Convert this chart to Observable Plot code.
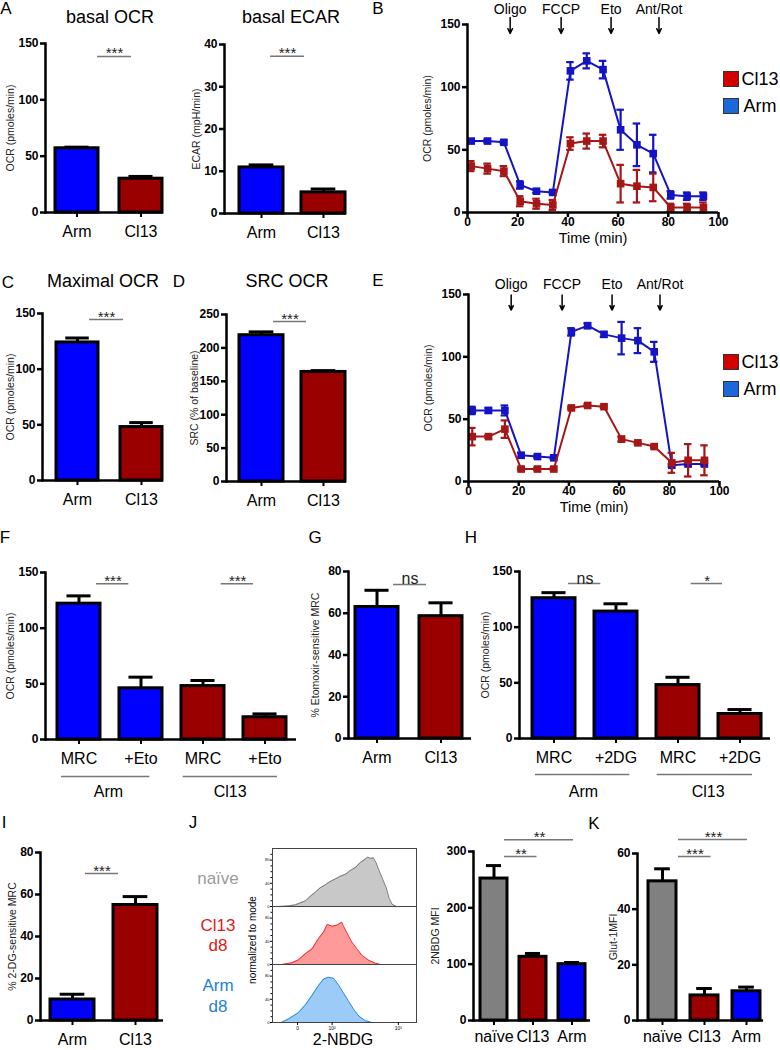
<!DOCTYPE html>
<html><head><meta charset="utf-8">
<script src="https://cdn.jsdelivr.net/npm/d3@7"></script>
<script src="https://cdn.jsdelivr.net/npm/@observablehq/plot@0.6"></script>
<style>
body{margin:0;background:#fff;font-family:'Liberation Sans',Arial,sans-serif;}
#fig{position:relative;width:780px;height:1050px;overflow:hidden;background:#fff;}
.t{position:absolute;white-space:nowrap;transform:translate(-50%,-50%);line-height:1;color:#000;}
.sq{position:absolute;border:1px solid #333;box-sizing:border-box;}
svg{overflow:visible;}
</style></head>
<body><div id="fig"></div>
<script>
// ---------- data ----------
const armCl13 = ["Arm", "Cl13"];
const basalOCR = [57, 30], basalOCRErr = [58, 32];
const basalECAR = [10.9, 5.0], basalECARErr = [11.5, 5.8];
const maxOCR = [124, 48], maxOCRErr = [128, 52];
const srcOCR = [219, 164], srcOCRErr = [224, 166];
const etoKeys = ["MRC_Arm", "Eto_Arm", "MRC_Cl13", "Eto_Cl13"];
const etoCats = ["MRC", "+Eto", "MRC", "+Eto"];
const etoOCR = [122, 46, 48, 20], etoOCRErr = [129, 56, 53, 23];
const etoSens = [63, 58.6], etoSensErr = [71, 65];
const dgKeys = ["MRC_Arm", "DG_Arm", "MRC_Cl13", "DG_Cl13"];
const dgCats = ["MRC", "+2DG", "MRC", "+2DG"];
const dgOCR = [126, 114, 48, 22], dgOCRErr = [131, 121, 55, 26];
const dgSens = [10, 55], dgSensErr = [12.5, 59];
const mfiCats = ["naïve", "Cl13", "Arm"];
const nbdgMFI = [252, 113, 100], nbdgMFIErr = [275, 119, 103];
const glutMFI = [50, 9, 10.5], glutMFIErr = [54.5, 11.5, 12];

const timeMin = [1.5, 8, 14.5, 21, 27.5, 34, 41, 47.5, 54, 61, 67.5, 74, 81, 87.5, 94];
const bArm = [57, 57, 56, 22, 17, 16, 113, 121, 114, 66, 54, 47, 14, 13, 13];
const bArmErr = [1.5, 1, 1, 3, 1.5, 1.5, 7, 6, 7, 16, 17, 15, 3, 3, 3];
const bCl13 = [37, 35, 33, 9, 7, 6, 55, 57, 57, 23, 21, 20, 4, 4, 4];
const bCl13Err = [4, 4, 4, 4, 4, 4, 5, 6, 5, 15, 13, 11, 3, 3, 4];
const eArm = [57, 57, 57, 21, 20, 19, 120, 125, 118, 115, 113, 104, 13, 14, 14];
const eArmErr = [3, 2, 4, 2, 1, 1, 3, 2, 2, 13, 10, 8, 1, 1, 1];
const eCl13 = [36, 36, 42, 10, 10, 10, 59, 61, 60, 34, 31, 28, 15, 17, 17];
const eCl13Err = [7, 1, 7, 1, 1, 1, 1, 1, 1, 2, 1, 1, 8, 13, 12];
const injections = ["Oligo", "FCCP", "Eto", "Ant/Rot"];
const injectionTimes = [17, 37.3, 57.2, 76.3];

const naiveHist = [[4,0],[11,1],[16,3],[19,6],[23,10],[26,17],[30,25],[33,32],[37,38],[40,43],[44,48],[47,52],[51,56],[54,62],[58,68],[61,76],[63.5,80],[66,85],[68,83],[70,84],[72,75],[74,62],[76,50],[79,32],[81,14],[83,4],[86,0]];
const cl13Hist = [[6.5,0],[13.5,3],[18,8],[23,19],[27.5,27],[32,45],[35.5,56],[38,69],[41.5,66],[45,68],[48,73],[49.5,65],[52,53],[55,39],[59,26],[62,16],[67,7],[71.5,2],[75,0]];
const armHist = [[6,0],[11,6],[18,17],[23,31],[27.5,47],[32,64],[35.5,75],[39,78],[42.5,76],[46,64],[49.5,50],[53,36],[56.5,22],[60,11],[64.5,3],[69,0]];
const histTicks = [17.4, 41.4, 87.4], histTickLabels = ["0", "10²", "10³"];

// ---------- style ----------
const FONT = "'Liberation Sans', Arial, sans-serif";
const BLUE = "#0000ff", RED = "#9b0000", GRAY = "#808080";
const LBLUE = "#1414c4", LRED = "#a51616";
const fig = document.getElementById("fig");

function place(node, left, top) {
  node.style.position = "absolute";
  node.style.left = left + "px";
  node.style.top = top + "px";
  fig.appendChild(node);
}
function label(text, x, y, size, opts = {}) {
  const d = document.createElement("div");
  d.className = "t";
  d.textContent = text;
  d.style.left = x + "px";
  d.style.top = y + "px";
  d.style.fontSize = size + "px";
  if (opts.color) d.style.color = opts.color;
  if (opts.rotate) d.style.transform = `translate(-50%,-50%) rotate(${opts.rotate}deg)`;
  fig.appendChild(d);
}
function square(x, y, s, color) {
  const d = document.createElement("div");
  d.className = "sq";
  d.style.left = x + "px"; d.style.top = y + "px";
  d.style.width = s + "px"; d.style.height = s + "px";
  d.style.background = color;
  fig.appendChild(d);
}

function barPanel(p) {
  const mL = 55, mR = 8, mT = 30, mB = 62;
  const L = p.axisX - mL, T = p.yTop - mT;
  const W = p.axisEnd - p.axisX + mL + mR;
  const H = p.yBottom - p.yTop + mT + mB;
  const n = p.keys.length;
  const step = (p.barEnd - p.barStart - p.barW) / (n - 1);
  const pin = 1 - p.barW / step;
  const bs = i => p.barStart + i * step;
  const data = p.keys.map((k, i) => ({k, v: p.values[i], e: p.errs[i], c: p.colors[i]}));
  const marks = [
    Plot.barY(data, {x: "k", y: "v", fill: "c", stroke: "black", strokeWidth: 3}),
    Plot.ruleX(data, {x: "k", y1: "v", y2: "e", strokeWidth: 3}),
    Plot.tickY(data, {x: "k", y: "e", strokeWidth: 3, inset: p.barW * 0.22}),
    Plot.ruleY([0], {strokeWidth: 2.5}),
    Plot.frame({anchor: "left", strokeWidth: 2.5}),
    Plot.axisY({ticks: p.ticks, tickSize: 5, tickPadding: 2, fontSize: 12, fontWeight: "bold", strokeWidth: 2.5, label: null}),
    Plot.axisX({tickSize: 5, tickPadding: p.catPad ?? 8, fontSize: 16, strokeWidth: 2, label: null,
      tickFormat: k => p.labels[p.keys.indexOf(k)]}),
    Plot.text([p.ylabel], {frameAnchor: "left", textAnchor: "middle", rotate: -90, dx: -p.ylabelOff, fontSize: 10.5, fill: "#222", text: d => d})
  ];
  for (const s of p.sigs || []) {
    const datum = {a: p.keys[s.a], b: p.keys[s.b], y: s.y, t: s.t};
    marks.push(Plot.ruleY([datum], {y: "y", x1: "a", x2: "b", insetLeft: s.x1 - bs(s.a),
      insetRight: bs(s.b) + p.barW - s.x2, stroke: "#777", strokeWidth: 1.5}));
    marks.push(Plot.text([datum], {x: "a", y: "y", text: "t", dx: (s.x1 + s.x2) / 2 - (bs(s.a) + p.barW / 2),
      dy: s.size ? 0 : 2, lineAnchor: "bottom", fontSize: s.size ?? 15, fill: "#222"}));
  }
  for (const g of p.groups || []) {
    const datum = {a: p.keys[g.a], b: p.keys[g.b], t: g.t};
    marks.push(Plot.ruleY([datum], {y: 0, x1: "a", x2: "b", dy: g.ly - p.yBottom, insetLeft: g.x1 - bs(g.a),
      insetRight: bs(g.b) + p.barW - g.x2, stroke: "#777", strokeWidth: 1.5}));
    marks.push(Plot.text([datum], {x: "a", y: 0, text: "t", dx: g.tx - (bs(g.a) + p.barW / 2),
      dy: g.ty - p.yBottom, fontSize: 16}));
  }
  const svg = Plot.plot({
    width: W, height: H, marginLeft: mL, marginRight: mR, marginTop: mT, marginBottom: mB,
    x: {type: "band", domain: p.keys, range: [p.barStart - L, p.barEnd - L], paddingInner: pin, paddingOuter: 0, align: 0.5},
    y: {domain: p.domain},
    color: {type: "identity"},
    style: {fontFamily: FONT, color: "#000", background: "transparent", overflow: "visible"},
    marks
  });
  place(svg, L, T);
}

function linePanel(p) {
  const mL = 60, mR = 8, mT = 24, mB = 45;
  const L = p.axisX - mL, T = p.yTop - mT;
  const W = p.axisEnd - p.axisX + mL + mR;
  const H = p.yBottom - p.yTop + mT + mB;
  const ser = (vals, errs) => timeMin.map((t, i) => ({t, v: vals[i], lo: vals[i] - errs[i], hi: vals[i] + errs[i]}));
  const seriesMarks = (s, color) => [
    Plot.line(s, {x: "t", y: "v", stroke: color, strokeWidth: 2}),
    Plot.ruleX(s, {x: "t", y1: "lo", y2: "hi", stroke: color, strokeWidth: 2.2}),
    Plot.ruleY(s, {y: "hi", x1: d => d.t - 1.5, x2: d => d.t + 1.5, stroke: color, strokeWidth: 2.2}),
    Plot.ruleY(s, {y: "lo", x1: d => d.t - 1.5, x2: d => d.t + 1.5, stroke: color, strokeWidth: 2.2}),
    Plot.dot(s, {x: "t", y: "v", symbol: "square", r: 4.3, fill: color, stroke: "none"})
  ];
  const inj = injections.map((name, i) => ({name, t: injectionTimes[i]}));
  const svg = Plot.plot({
    width: W, height: H, marginLeft: mL, marginRight: mR, marginTop: mT, marginBottom: mB,
    x: {domain: [0, 100]},
    y: {domain: [0, 150]},
    style: {fontFamily: FONT, color: "#000", background: "transparent", overflow: "visible"},
    marks: [
      ...seriesMarks(ser(p.arm, p.armErr), LBLUE),
      ...seriesMarks(ser(p.cl, p.clErr), LRED),
      Plot.ruleY([0], {strokeWidth: 2.5}),
      Plot.frame({anchor: "left", strokeWidth: 2.5}),
      Plot.axisY({ticks: [0, 50, 100, 150], tickSize: 5, tickPadding: 2, fontSize: 12, fontWeight: "bold", strokeWidth: 2.5, label: null}),
      Plot.axisX({ticks: [0, 20, 40, 60, 80, 100], tickSize: 5, tickPadding: 0, fontSize: 12, fontWeight: "bold", strokeWidth: 2.5, label: null}),
      Plot.text(["OCR (pmoles/min)"], {frameAnchor: "left", textAnchor: "middle", rotate: -90, dx: -40, fontSize: 10.5, fill: "#222", text: d => d}),
      Plot.text(["Time (min)"], {frameAnchor: "bottom", dy: 30, fontSize: 14.5, text: d => d}),
      Plot.arrow(inj, {x: "t", y1: p.arrowY1, y2: p.arrowY2, strokeWidth: 1.5, headLength: 6, headAngle: 50}),
      Plot.text(inj, {x: "t", y: 150, dy: p.textDy, text: "name", fontSize: 14})
    ]
  });
  place(svg, L, T);
  // legend
  square(723, p.legY, 16, "#d40000");
  label("Cl13", 760, p.legY + 8, 18);
  square(723, p.legY + 27, 16, "#1d68d8");
  label("Arm", 760, p.legY + 35, 18);
}

function histPanel() {
  const rows = [
    {key: "naive", pts: naiveHist, fill: "#c8c8c8", stroke: "#7a7a7a"},
    {key: "cl13", pts: cl13Hist, fill: "#ff9a9a", stroke: "#ef2a2a"},
    {key: "arm", pts: armHist, fill: "#9dcbf7", stroke: "#2288e8"}
  ];
  const data = rows.flatMap(r => r.pts.map(([x, y]) => ({row: r.key, x, y, fill: r.fill, stroke: r.stroke})));
  const mL = 20, mR = 4, mT = 2, mB = 14;
  const svg = Plot.plot({
    width: 144 + mL + mR, height: 175 + mT + mB, marginLeft: mL, marginRight: mR, marginTop: mT, marginBottom: mB,
    fy: {domain: rows.map(r => r.key), padding: 0, axis: null},
    x: {domain: [0, 100]},
    y: {domain: [0, 100]},
    color: {type: "identity"},
    style: {fontFamily: FONT, color: "#000", background: "transparent", overflow: "visible"},
    marks: [
      Plot.areaY(data, {x: "x", y: "y", fy: "row", fill: "fill", curve: "linear"}),
      Plot.lineY(data, {x: "x", y: "y", fy: "row", stroke: "stroke", strokeWidth: 1}),
      Plot.frame({stroke: "#444", strokeWidth: 1}),
      Plot.axisY({ticks: [0, 40, 80], tickSize: 2, tickPadding: 1, fontSize: 4, label: null}),
      Plot.axisY({ticks: [10, 20, 30, 50, 60, 70, 90], tickSize: 1.5, tickFormat: null, text: null, label: null}),
      Plot.axisX({ticks: histTicks, tickFormat: (d, i) => histTickLabels[i], tickSize: 3, tickPadding: 1, fontSize: 5, label: null})
    ]
  });
  place(svg, 272 - mL, 847 - mT);
}

// ---------- panels ----------
barPanel({axisX: 45, axisEnd: 163, yTop: 43, yBottom: 212, domain: [0, 150], ticks: [0, 50, 100, 150],
  barStart: 55, barEnd: 162, barW: 43, keys: armCl13, labels: armCl13, values: basalOCR, errs: basalOCRErr,
  colors: [BLUE, RED], ylabel: "OCR (pmoles/min)", ylabelOff: 35,
  sigs: [{a: 0, b: 1, x1: 97, x2: 131, y: 138.5, t: "***"}]});
barPanel({axisX: 224, axisEnd: 346, yTop: 44, yBottom: 213, domain: [0, 40], ticks: [0, 10, 20, 30, 40],
  barStart: 239, barEnd: 345, barW: 44, keys: armCl13, labels: armCl13, values: basalECAR, errs: basalECARErr,
  colors: [BLUE, RED], ylabel: "ECAR (mpH/min)", ylabelOff: 28,
  sigs: [{a: 0, b: 1, x1: 270, x2: 304, y: 37.2, t: "***"}]});
barPanel({axisX: 42, axisEnd: 163, yTop: 313, yBottom: 480, domain: [0, 150], ticks: [0, 50, 100, 150],
  barStart: 56, barEnd: 162, barW: 42, keys: armCl13, labels: armCl13, values: maxOCR, errs: maxOCRErr,
  colors: [BLUE, RED], ylabel: "OCR (pmoles/min)", ylabelOff: 32,
  sigs: [{a: 0, b: 1, x1: 89, x2: 123, y: 144.6, t: "***"}]});
barPanel({axisX: 226, axisEnd: 346, yTop: 314, yBottom: 481, domain: [0, 250], ticks: [0, 50, 100, 150, 200, 250],
  barStart: 239, barEnd: 345, barW: 44, keys: armCl13, labels: armCl13, values: srcOCR, errs: srcOCRErr,
  colors: [BLUE, RED], ylabel: "SRC (% of baseline)", ylabelOff: 32,
  sigs: [{a: 0, b: 1, x1: 273, x2: 306, y: 239.5, t: "***"}]});
barPanel({axisX: 45, axisEnd: 296, yTop: 572, yBottom: 739, domain: [0, 150], ticks: [0, 50, 100, 150],
  barStart: 56, barEnd: 287, barW: 43, keys: etoKeys, labels: etoCats, values: etoOCR, errs: etoOCRErr,
  colors: [BLUE, BLUE, RED, RED], ylabel: "OCR (pmoles/min)", ylabelOff: 35,
  sigs: [{a: 0, b: 1, x1: 95, x2: 128, y: 140, t: "***"}, {a: 2, b: 3, x1: 221, x2: 254, y: 140, t: "***"}],
  groups: [{a: 0, b: 1, x1: 60, x2: 149, ly: 776, tx: 107, ty: 791, t: "Arm"},
           {a: 2, b: 3, x1: 183, x2: 278, ly: 776, tx: 230, ty: 791, t: "Cl13"}]});
barPanel({axisX: 348, axisEnd: 471, yTop: 571, yBottom: 738, domain: [0, 80], ticks: [0, 20, 40, 60, 80],
  barStart: 355, barEnd: 462, barW: 43, keys: armCl13, labels: armCl13, values: etoSens, errs: etoSensErr,
  colors: [BLUE, RED], ylabel: "% Etomoxir-sensitive MRC", ylabelOff: 33,
  sigs: [{a: 0, b: 1, x1: 393, x2: 426, y: 73.8, t: "ns", size: 16}]});
barPanel({axisX: 519, axisEnd: 770, yTop: 571, yBottom: 738, domain: [0, 150], ticks: [0, 50, 100, 150],
  barStart: 531, barEnd: 762, barW: 43, keys: dgKeys, labels: dgCats, values: dgOCR, errs: dgOCRErr,
  colors: [BLUE, BLUE, RED, RED], ylabel: "OCR (pmoles/min)", ylabelOff: 34,
  sigs: [{a: 0, b: 1, x1: 567, x2: 600, y: 139.2, t: "ns", size: 16}, {a: 2, b: 3, x1: 691, x2: 723, y: 139.2, t: "*"}],
  groups: [{a: 0, b: 1, x1: 534, x2: 629, ly: 774, tx: 582, ty: 791, t: "Arm"},
           {a: 2, b: 3, x1: 657, x2: 753, ly: 774, tx: 708, ty: 791, t: "Cl13"}]});
barPanel({axisX: 40, axisEnd: 163, yTop: 852, yBottom: 1020, domain: [0, 80], ticks: [0, 20, 40, 60, 80],
  barStart: 50, barEnd: 157, barW: 44, keys: armCl13, labels: armCl13, values: dgSens, errs: dgSensErr,
  colors: [BLUE, RED], ylabel: "% 2-DG-sensitive MRC", ylabelOff: 28,
  sigs: [{a: 0, b: 1, x1: 85, x2: 118, y: 70, t: "***"}]});
barPanel({axisX: 473, axisEnd: 590, yTop: 851, yBottom: 1020, domain: [0, 300], ticks: [0, 100, 200, 300],
  barStart: 479, barEnd: 585, barW: 27, keys: mfiCats, labels: mfiCats, values: nbdgMFI, errs: nbdgMFIErr,
  colors: [GRAY, RED, BLUE], ylabel: "2NBDG MFI", ylabelOff: 38, catPad: 5,
  sigs: [{a: 0, b: 1, x1: 503, x2: 536, y: 291, t: "**"}, {a: 0, b: 2, x1: 503, x2: 573, y: 321, t: "**"}]});
barPanel({axisX: 637, axisEnd: 763, yTop: 853, yBottom: 1020, domain: [0, 60], ticks: [0, 20, 40, 60],
  barStart: 647, barEnd: 760, barW: 28, keys: mfiCats, labels: mfiCats, values: glutMFI, errs: glutMFIErr,
  colors: [GRAY, RED, BLUE], ylabel: "Glut-1MFI", ylabelOff: 24, catPad: 5,
  sigs: [{a: 0, b: 1, x1: 677, x2: 710, y: 58.9, t: "***"}, {a: 0, b: 2, x1: 677, x2: 747, y: 65, t: "***"}]});

linePanel({axisX: 467, axisEnd: 718, yTop: 24, yBottom: 212, arm: bArm, armErr: bArmErr, cl: bCl13, clErr: bCl13Err,
  arrowY1: 155.6, arrowY2: 142.8, textDy: -15, legY: 71});
linePanel({axisX: 468, axisEnd: 719, yTop: 294, yBottom: 481, arm: eArm, armErr: eArmErr, cl: eCl13, clErr: eCl13Err,
  arrowY1: 149.5, arrowY2: 137.5, textDy: -10, legY: 354});

histPanel();

// ---------- titles, letters, labels ----------
label("A", 6, 8, 17); label("B", 378, 8, 17); label("C", 8, 282, 17); label("D", 179, 281, 17);
label("E", 378, 280, 17); label("F", 5, 537, 17); label("G", 315, 537, 17); label("H", 471, 537, 17);
label("I", 4, 822, 17); label("J", 193, 822, 17); label("K", 594, 823, 17);
label("basal OCR", 110, 17, 18); label("basal ECAR", 291, 17, 18);
label("Maximal OCR", 103, 281, 18); label("SRC OCR", 287, 281, 18);
label("naïve", 218, 878, 17, {color: "#9a9a9a"});
label("Cl13", 218, 925, 17, {color: "#d81c1c"}); label("d8", 218, 945, 17, {color: "#d81c1c"});
label("Arm", 218, 985, 17, {color: "#1f7fd6"}); label("d8", 218, 1006, 17, {color: "#1f7fd6"});
label("normalized to mode", 253, 940, 10, {rotate: -90});
label("2-NBDG", 343, 1040, 16);
</script>
</body></html>
